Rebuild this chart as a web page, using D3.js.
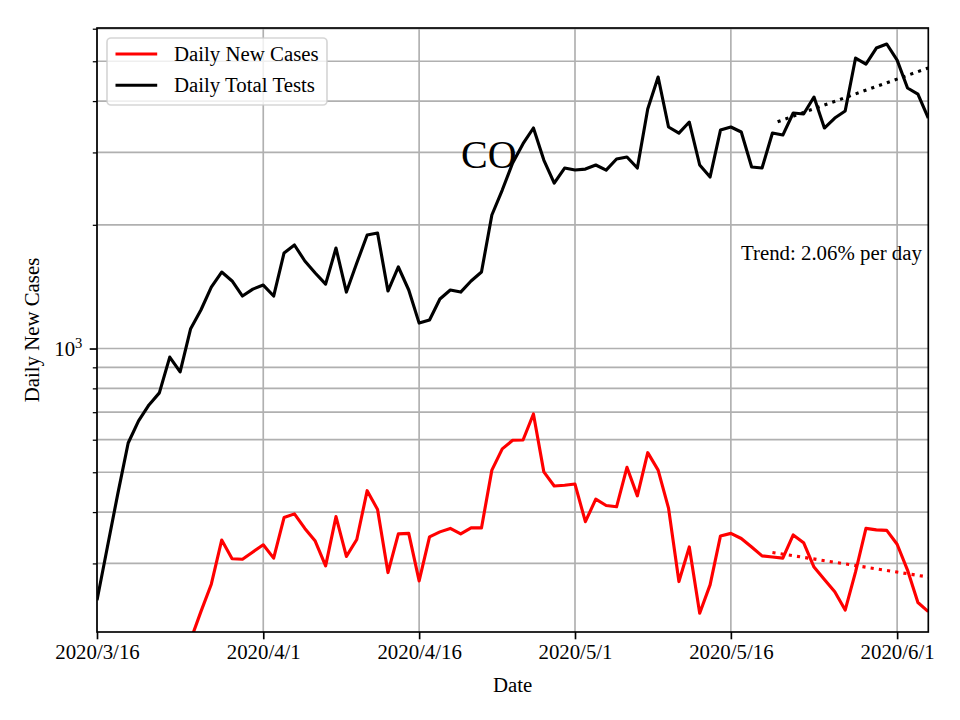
<!DOCTYPE html>
<html>
<head>
<meta charset="utf-8">
<script src="https://cdn.jsdelivr.net/npm/d3@7"></script>
<style>
  html, body { margin: 0; padding: 0; background: #fff; }
  svg { display: block; }
  text { font-family: "Liberation Serif", "Times New Roman", serif; }
</style>
</head>
<body>
<svg id="chart" width="960" height="720"></svg>
<script>
// ---------------- data ----------------
const testsStart = "2020-03-16";
const dailyTests = [244, 329, 443, 589, 667, 729, 780, 953, 877, 1115,
  1241, 1411, 1535, 1460, 1342, 1395, 1427, 1342, 1708, 1786,
  1633, 1527, 1435, 1756, 1372, 1614, 1889, 1910, 1380, 1579,
  1388, 1153, 1173, 1320, 1388, 1372, 1460, 1535, 2113, 2430,
  2828, 3150, 3440, 2875, 2527, 2749, 2718, 2733, 2796, 2718,
  2891, 2924, 2749, 3825, 4577, 3459, 3344, 3557, 2796, 2614,
  3401, 3459, 3364, 2764, 2749, 3344, 3307, 3741, 3720, 4092,
  3440, 3638, 3783, 5090, 4922, 5384, 5507, 5033, 4304, 4161, 3638];

const casesStart = "2020-03-25";
const dailyCases = [195, 229, 267, 342, 308, 307, 320, 333, 309, 388,
  396, 365, 340, 296, 390, 312, 343, 451, 406, 285,
  354, 355, 272, 348, 358, 365, 354, 366, 366, 506,
  570, 598, 599, 693, 501, 463, 465, 468, 379, 430,
  415, 412, 514, 438, 558, 506, 409, 271, 329, 227,
  266, 350, 355, 345, 329, 313, 311, 309, 352, 337,
  294, 274, 256, 231, 286, 365, 362, 361, 334, 289, 241, 229];

// trend lines (start/end dates and values)
const testsTrendDates = ["2020-05-20T12:00", "2020-06-04"];
const testsTrendValues = [3563, 4816];
const casesTrendDates = ["2020-05-20", "2020-06-04"];
const casesTrendValues = [319, 278];

const xTickDates = ["2020-03-16", "2020-04-01", "2020-04-16", "2020-05-01", "2020-05-16", "2020-06-01"];
const yDomain = [204.3, 6024];
const xDomain = ["2020-03-16", "2020-06-04"];

const seriesNames = ["Daily New Cases", "Daily Total Tests"];
const seriesColors = ["#ff0000", "#000000"];
const stateLabel = "CO";
const trendLabel = "Trend: 2.06% per day";

// ---------------- layout ----------------
const FS = 20.83;          // 10pt at 150 dpi
const LW = 3.125;          // 1.5pt
const plot = {left: 97, right: 928.3, top: 28, bottom: 632};
const parse = d3.timeParse("%Y-%m-%d");
const parseT = d3.isoParse;

function series(start, vals) {
  const s = parse(start);
  return vals.map((v, i) => ({date: d3.timeDay.offset(s, i), value: v}));
}
const testsData = series(testsStart, dailyTests);
const casesData = series(casesStart, dailyCases);

const x = d3.scaleTime().domain(xDomain.map(parse)).range([plot.left, plot.right]);
const y = d3.scaleLog().domain(yDomain).range([plot.bottom, plot.top]);

const svg = d3.select("#chart");
svg.append("rect").attr("width", 960).attr("height", 720).attr("fill", "#fff");

svg.append("defs").append("clipPath").attr("id", "clip")
  .append("rect").attr("x", plot.left).attr("y", plot.top)
  .attr("width", plot.right - plot.left).attr("height", plot.bottom - plot.top);

// grid
const yGrid = y.ticks().filter(v => v >= yDomain[0] && v <= yDomain[1]);
const grid = svg.append("g").attr("stroke", "#b0b0b0").attr("stroke-width", 1.67);
grid.selectAll("line.h").data(yGrid).join("line").attr("class", "h")
  .attr("x1", plot.left).attr("x2", plot.right)
  .attr("y1", d => y(d)).attr("y2", d => y(d));
grid.selectAll("line.v").data(xTickDates.map(parse)).join("line").attr("class", "v")
  .attr("y1", plot.top).attr("y2", plot.bottom)
  .attr("x1", d => x(d)).attr("x2", d => x(d));

// lines
const line = d3.line().x(d => x(d.date)).y(d => y(d.value));
const plotG = svg.append("g").attr("clip-path", "url(#clip)");

svg.append("text").attr("x", 461).attr("y", 168).attr("font-size", 40)
  .attr("fill", "#000").text(stateLabel);

plotG.append("path").datum(casesData).attr("d", line)
  .attr("fill", "none").attr("stroke", seriesColors[0]).attr("stroke-width", LW)
  .attr("stroke-linejoin", "round");
plotG.append("path").datum(testsData).attr("d", line)
  .attr("fill", "none").attr("stroke", seriesColors[1]).attr("stroke-width", LW)
  .attr("stroke-linejoin", "round");

function trend(dates, vals, color) {
  const pts = dates.map((d, i) => ({date: parseT(d), value: vals[i]}));
  plotG.append("path").datum(pts).attr("d", line)
    .attr("fill", "none").attr("stroke", color).attr("stroke-width", LW)
    .attr("stroke-dasharray", "3.125,5.16");
}
trend(casesTrendDates, casesTrendValues, seriesColors[0]);
trend(testsTrendDates, testsTrendValues, seriesColors[1]);

svg.append("text").attr("x", 741).attr("y", 260).attr("font-size", FS)
  .attr("fill", "#000").text(trendLabel);

// axes
const fmt = d => `${d.getFullYear()}/${d.getMonth() + 1}/${d.getDate()}`;
const xAxis = svg.append("g").attr("transform", `translate(0,${plot.bottom})`)
  .call(d3.axisBottom(x).tickValues(xTickDates.map(parse)).tickFormat(fmt)
    .tickSize(7.3).tickPadding(4.5).tickSizeOuter(0));
xAxis.select(".domain").remove();
xAxis.selectAll(".tick line").attr("stroke", "#000").attr("stroke-width", 1.67);
xAxis.selectAll(".tick text").attr("font-size", FS).attr("fill", "#000")
  .attr("font-family", "Liberation Serif, serif");

const yMinor = yGrid.filter(v => v !== 1000);
const yAxisMinor = svg.append("g").attr("transform", `translate(${plot.left},0)`)
  .call(d3.axisLeft(y).tickValues(yMinor).tickFormat("").tickSize(4.2).tickSizeOuter(0));
yAxisMinor.select(".domain").remove();
yAxisMinor.selectAll(".tick line").attr("stroke", "#000").attr("stroke-width", 1.25);

const yAxisMajor = svg.append("g").attr("transform", `translate(${plot.left},0)`)
  .call(d3.axisLeft(y).tickValues([1000]).tickFormat("").tickSize(7.3).tickSizeOuter(0));
yAxisMajor.select(".domain").remove();
yAxisMajor.selectAll(".tick line").attr("stroke", "#000").attr("stroke-width", 1.67);

const lab = svg.append("text").attr("x", plot.left - 14.6).attr("y", y(1000) + 7)
  .attr("text-anchor", "end").attr("font-size", FS).attr("fill", "#000");
lab.append("tspan").text("10");
lab.append("tspan").attr("font-size", 14.6).attr("dy", -8).text("3");

// frame
svg.append("rect").attr("x", plot.left).attr("y", plot.top)
  .attr("width", plot.right - plot.left).attr("height", plot.bottom - plot.top)
  .attr("fill", "none").attr("stroke", "#000").attr("stroke-width", 1.67);

// axis labels
svg.append("text").attr("x", (plot.left + plot.right) / 2).attr("y", 692)
  .attr("text-anchor", "middle").attr("font-size", FS).attr("fill", "#000").text("Date");
svg.append("text").attr("transform", `translate(39,${(plot.top + plot.bottom) / 2}) rotate(-90)`)
  .attr("text-anchor", "middle").attr("font-size", FS).attr("fill", "#000").text("Daily New Cases");

// legend
const lg = svg.append("g");
lg.append("rect").attr("x", 107).attr("y", 38).attr("width", 220).attr("height", 67)
  .attr("rx", 4).attr("ry", 4).attr("fill", "#fff").attr("fill-opacity", 0.8)
  .attr("stroke", "#cccccc").attr("stroke-opacity", 0.8).attr("stroke-width", 1.67);
seriesNames.forEach((name, i) => {
  const cy = 54 + i * 31.3;
  lg.append("line").attr("x1", 115.5).attr("x2", 157.2).attr("y1", cy).attr("y2", cy)
    .attr("stroke", seriesColors[i]).attr("stroke-width", LW);
  lg.append("text").attr("x", 174).attr("y", cy + 7).attr("font-size", FS)
    .attr("fill", "#000").text(name);
});
</script>
</body>
</html>
